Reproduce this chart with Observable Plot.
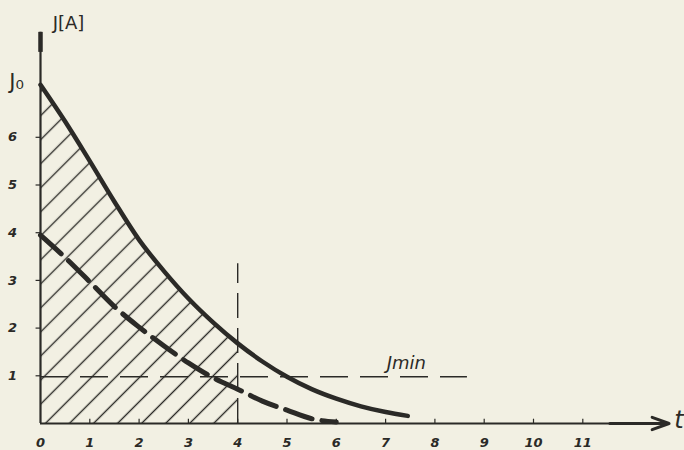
<!DOCTYPE html>
<html>
<head>
<meta charset="utf-8">
<script src="https://cdn.jsdelivr.net/npm/d3@7"></script>
<script src="https://cdn.jsdelivr.net/npm/@observablehq/plot@0.6"></script>
<style>
  html, body { margin: 0; padding: 0; background: #f2f0e3; }
  #chart svg { display: block; }
</style>
</head>
<body>
<div id="chart"></div>
<script>
// --- data ---
const solidT = [0, 0.5, 1, 1.5, 2, 2.5, 3, 3.5, 4, 4.5, 5, 5.5, 6, 6.5, 7, 7.45];
const solidI = [7.1, 6.33, 5.5, 4.65, 3.85, 3.2, 2.62, 2.12, 1.68, 1.3, 0.98, 0.72, 0.52, 0.36, 0.24, 0.16];
const dashT = [0, 0.5, 1, 1.5, 2, 2.5, 3, 3.5, 4, 4.5, 5, 5.5, 6];
const dashI = [3.95, 3.48, 2.97, 2.45, 2.02, 1.63, 1.27, 0.96, 0.72, 0.47, 0.28, 0.1, 0.03];
const xTicks = [0, 1, 2, 3, 4, 5, 6, 7, 8, 9, 10, 11];
const xTickLabels = ["0", "1", "2", "3", "4", "5", "6", "7", "8", "9", "10", "11"];
const yTicks = [1, 2, 3, 4, 5, 6];
const yTickLabels = ["1", "2", "3", "4", "5", "6"];
const I0 = 7.1;
const I0Label = "J₀";
const Imin = 0.98;
const IminEnd = 8.66;
const IminLabel = "Jmin";
const tCut = 4;
const tCutTop = 3.35;
const yLabel = "J[A]";
const xLabel = "t";
const xAxisEnd = 12.75;
const yAxisEnd = 8.2;

const solid = solidT.map((t, i) => ({t, v: solidI[i]}));
const dashed = dashT.map((t, i) => ({t, v: dashI[i]}));
const hatched = solid.filter(d => d.t <= tCut);

const ink = "#2b2a27";
const font = "'DejaVu Sans', sans-serif";

const svg = Plot.plot({
  width: 684,
  height: 450,
  marginLeft: 40,
  marginRight: 0,
  marginTop: 0,
  marginBottom: 27,
  x: {domain: [0, 644 / 49.3], axis: null},
  y: {domain: [0, 423 / 47.7], axis: null},
  style: {background: "#f2f0e3", fontFamily: font, color: ink},
  marks: [
    // hatched area under the solid curve up to t = 4
    Plot.areaY(hatched, {x: "t", y: "v", fill: "url(#hatch)", curve: "monotone-x"}),
    // Imin horizontal dashed line
    Plot.ruleY([Imin], {x1: 0, x2: IminEnd, stroke: ink, strokeWidth: 1.4, strokeDasharray: "28,12"}),
    // vertical dashed line at t = 4
    Plot.ruleX([tCut], {y1: 0, y2: tCutTop, stroke: ink, strokeWidth: 1.4, strokeDasharray: "25,10"}),
    // axes
    Plot.ruleY([0], {x1: 0, x2: xAxisEnd - 0.3, stroke: ink, strokeWidth: 2.2}),
    Plot.ruleX([0], {y1: 0, y2: yAxisEnd, stroke: ink, strokeWidth: 2.2}),
    Plot.ruleX([0], {y1: yAxisEnd - 0.42, y2: yAxisEnd, stroke: ink, strokeWidth: 4.5}),
    Plot.arrow([{x1: xAxisEnd - 1.2, x2: xAxisEnd}], {x1: "x1", x2: "x2", y1: 0, y2: 0, stroke: ink, strokeWidth: 3, headLength: 9, headAngle: 40}),
    // tiny tick marks
    Plot.ruleX(xTicks.slice(1), {x: d => d, y1: 0, y2: 0.09, stroke: ink, strokeWidth: 1.2}),
    Plot.ruleY(yTicks, {y: d => d, x1: -0.09, x2: 0, stroke: ink, strokeWidth: 1.2}),
    // curves
    Plot.line(dashed, {x: "t", y: "v", stroke: ink, strokeWidth: 5, strokeDasharray: "28,10", curve: "monotone-x"}),
    Plot.line(solid, {x: "t", y: "v", stroke: ink, strokeWidth: 4.5, curve: "monotone-x"}),
    // tick labels
    Plot.text(xTicks, {x: d => d, y: 0, dy: 19, text: (d, i) => xTickLabels[i], fill: ink, fontSize: 13, fontStyle: "italic", fontWeight: "bold"}),
    Plot.text(yTicks, {x: 0, y: d => d, dx: -28, text: (d, i) => yTickLabels[i], fill: ink, fontSize: 13, fontStyle: "italic", fontWeight: "bold"}),
    Plot.text([I0], {x: 0, y: d => d, dx: -24, dy: -3, text: () => I0Label, fill: ink, fontSize: 21}),
    Plot.text([yLabel], {x: 0, y: yAxisEnd, dx: 28, dy: -9, text: d => d, fill: ink, fontSize: 18}),
    Plot.text([IminLabel], {x: 7.42, y: Imin, dy: -14, text: d => d, fill: ink, fontSize: 18, fontStyle: "italic"}),
    Plot.text([xLabel], {x: xAxisEnd, y: 0, dx: 10, dy: -3, text: d => d, fill: ink, fontSize: 24, fontStyle: "italic"})
  ]
});

// hatch pattern definition
const defs = d3.select(svg).insert("defs", ":first-child");
const pat = defs.append("pattern")
  .attr("id", "hatch")
  .attr("patternUnits", "userSpaceOnUse")
  .attr("width", 17)
  .attr("height", 17)
  .attr("patternTransform", "rotate(45)");
pat.append("line")
  .attr("x1", 8.5).attr("y1", -1).attr("x2", 8.5).attr("y2", 18)
  .attr("stroke", ink).attr("stroke-width", 1.4);

document.getElementById("chart").appendChild(svg);
</script>
</body>
</html>
